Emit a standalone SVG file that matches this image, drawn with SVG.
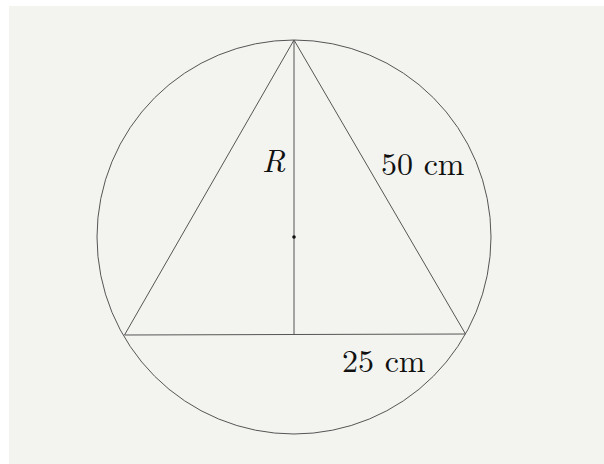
<svg xmlns="http://www.w3.org/2000/svg" width="604" height="464" viewBox="0 0 604 464">
<style>
.ln{fill:none;stroke:#555;stroke-width:1}
.lbl{font-family:"Latin Modern Roman","Liberation Serif",serif;font-size:32px;fill:#111}
</style>
<rect x="0" y="0" width="604" height="464" fill="#ffffff"/>
<rect x="9" y="6" width="595" height="458" fill="#f3f4ef"/>
<g id="circle"><circle class="ln" cx="294" cy="237" r="197"/></g>
<g id="connectors">
<polygon class="ln" points="294,40 124.5,335 465.5,334"/>
<line class="ln" x1="294" y1="40" x2="294" y2="335"/>
</g>
<g id="center"><circle cx="294" cy="237" r="1.8" fill="#111"/></g>
<g id="labels">
<text class="lbl" x="262" y="172" font-style="italic">R</text>
<text class="lbl" x="381" y="175">50 cm</text>
<text class="lbl" x="342" y="372">25 cm</text>
</g>
</svg>
